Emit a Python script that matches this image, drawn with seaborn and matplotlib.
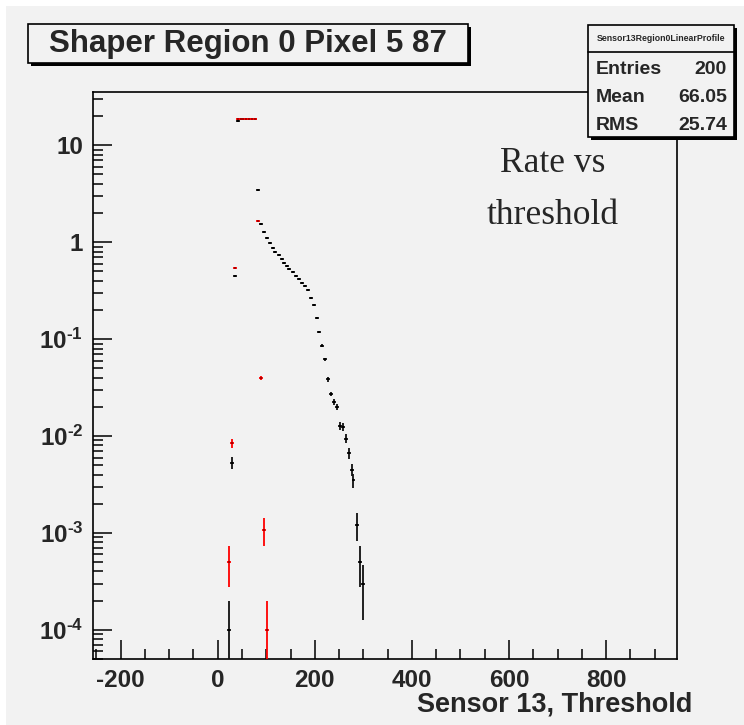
import numpy as np
import pandas as pd
import matplotlib
matplotlib.use("Agg")
import matplotlib.pyplot as plt
import seaborn as sns
from matplotlib.patches import Rectangle
from matplotlib.lines import Line2D
from matplotlib.ticker import MultipleLocator, LogLocator, NullFormatter

# --- data ---
black_x = [23.1, 29.2, 35.4, 41.0, 47.1, 53.0, 58.9, 64.8, 70.7, 76.6,
           82.2, 89.0, 94.5, 100.7, 106.9, 113.0, 118.4, 126.0, 132.2, 137.0,
           141.9, 147.3, 154.3, 160.4, 166.6, 172.8, 179.0, 185.2, 192.0, 198.1,
           204.3, 208.4, 214.0, 220.2, 226.4, 233.2, 238.7, 245.5, 251.7, 257.9,
           264.1, 270.2, 275.8, 279.5, 286.1, 292.9, 298.5]
black_y = [1.0e-4, 5.3e-3, 0.45, 17.8, 18.7, 18.7, 18.7, 18.7, 18.7, 18.7,
           3.43, 1.55, 1.29, 1.11, 0.975, 0.879, 0.798, 0.738, 0.671, 0.615,
           0.565, 0.530, 0.490, 0.452, 0.418, 0.380, 0.354, 0.319, 0.268, 0.225,
           0.164, 0.118, 0.0857, 0.062, 0.0385, 0.0272, 0.0226, 0.0200, 0.0127, 0.0125,
           0.0094, 0.00665, 0.0045, 0.0035, 0.00121, 0.000507, 0.000296]
black_err = [1.0e-4, 7.3e-4, 0.0067, 0.042, 0.043, 0.043, 0.043, 0.043, 0.043, 0.043,
             0.0185, 0.0124, 0.0114, 0.0105, 0.0099, 0.0094, 0.0089, 0.0086, 0.0082, 0.0078,
             0.0075, 0.0073, 0.0070, 0.0067, 0.0065, 0.0062, 0.0059, 0.0056, 0.0052, 0.0047,
             0.0040, 0.0034, 0.0029, 0.0025, 0.0020, 0.0016, 0.0015, 0.0014, 0.0011, 0.0011,
             0.0010, 0.0008, 0.00067, 0.00059, 0.00038, 0.00023, 0.00017]

red_x = [23.1, 29.2, 35.4, 41.2, 47.1, 53.0, 58.9, 64.8, 70.7, 76.6,
         82.2, 88.4, 94.5, 101.3]
red_y = [5.07e-4, 8.4e-3, 0.546, 18.7, 18.7, 18.7, 18.7, 18.7, 18.7, 18.7,
         1.66, 0.040, 1.08e-3, 1.0e-4]
red_err = [2.3e-4, 9.0e-4, 0.0074, 0.043, 0.043, 0.043, 0.043, 0.043, 0.043, 0.043,
           0.013, 0.002, 3.5e-4, 1.0e-4]

bin_half = 4.0

y_ticks = [1e-4, 1e-3, 1e-2, 1e-1, 1, 10]
y_labels = ["$\\mathbf{10^{\u20104}}$", "$\\mathbf{10^{\u20103}}$", "$\\mathbf{10^{\u20102}}$",
            "$\\mathbf{10^{\u20101}}$", "1", "10"]

title_txt = "Shaper Region 0 Pixel 5 87"
stat_name = "Sensor13Region0LinearProfile"
stat_rows = [("Entries", "200"), ("Mean", "66.05"), ("RMS", "25.74")]

df_black = pd.DataFrame({"x": black_x, "y": black_y, "err": black_err})
df_red = pd.DataFrame({"x": red_x, "y": red_y, "err": red_err})

sns.set_theme(style="ticks")
plt.rcParams["font.family"] = ["Liberation Sans", "DejaVu Sans"]
plt.rcParams["mathtext.fontset"] = "custom"
plt.rcParams["mathtext.rm"] = "Liberation Sans"
plt.rcParams["mathtext.bf"] = "Liberation Sans:bold"
plt.rcParams["axes.unicode_minus"] = False

W, H = 744, 725
GRAY = "#f2f2f2"
fig = plt.figure(figsize=(W / 100, H / 100), dpi=100, facecolor="white")


def px_rect(x0, y0, x1, y1, **kw):
    # rectangle given in pixel coords (origin top-left)
    r = Rectangle((x0 / W, 1 - y1 / H), (x1 - x0) / W, (y1 - y0) / H,
                  transform=fig.transFigure, **kw)
    fig.add_artist(r)
    return r


px_rect(6, 6, W, H, facecolor=GRAY, edgecolor="none", zorder=0)

ax = fig.add_axes([93 / W, 1 - 659 / H, (677 - 93) / W, (659 - 92) / H])
ax.set_facecolor(GRAY)

# black series
ax.errorbar(df_black["x"], df_black["y"], yerr=df_black["err"], xerr=bin_half,
            fmt="none", ecolor="#111111", elinewidth=1.3, capsize=0, zorder=3)
sns.scatterplot(data=df_black, x="x", y="y", ax=ax, color="black", marker="s",
                s=2.5, linewidth=0, zorder=4, legend=False)
# red series
ax.errorbar(df_red["x"], df_red["y"], yerr=df_red["err"], xerr=bin_half,
            fmt="none", ecolor="red", elinewidth=1.3, capsize=0, zorder=5)
sns.scatterplot(data=df_red, x="x", y="y", ax=ax, color="#aa0000", marker="s",
                s=2, linewidth=0, zorder=6, legend=False)

ax.set_yscale("log")
ax.set_xlim(-257, 946)
ax.set_ylim(5.0e-5, 35.5)

ax.xaxis.set_major_locator(MultipleLocator(200))
ax.xaxis.set_minor_locator(MultipleLocator(50))
ax.set_yticks(y_ticks)
ax.set_yticklabels(y_labels)
ax.yaxis.set_minor_locator(LogLocator(base=10, subs=np.arange(2, 10)))
ax.yaxis.set_minor_formatter(NullFormatter())

ax.tick_params(axis="both", which="major", direction="in", length=13.5, width=1.1,
               color="black", labelsize=17.5, pad=7, top=False, right=False)
ax.tick_params(axis="both", which="minor", direction="in", length=7, width=1.1,
               color="black", top=False, right=False)
for lab in ax.get_xticklabels() + ax.get_yticklabels():
    lab.set_fontweight("bold")
for s in ax.spines.values():
    s.set_linewidth(1.2)
    s.set_color("black")
ax.set_xlabel("")
ax.set_ylabel("")

fig.text(692 / W, 1 - 705 / H, "Sensor 13, Threshold", ha="right", va="center",
         fontsize=19.5, fontweight="bold")

# title box with shadow
px_rect(31, 27, 471, 66, facecolor="black", edgecolor="none", zorder=5)
px_rect(28, 24, 468, 63, facecolor=GRAY, edgecolor="black", linewidth=1.2, zorder=6)
fig.text(248 / W, 1 - 44 / H, title_txt, ha="center", va="center",
         fontsize=22.5, fontweight="bold", zorder=7)

# stats box with shadow
px_rect(591, 28, 737, 140, facecolor="black", edgecolor="none", zorder=5)
px_rect(588, 25, 734, 137, facecolor=GRAY, edgecolor="black", linewidth=1.2, zorder=6)
fig.add_artist(Line2D([588 / W, 734 / W], [1 - 52 / H, 1 - 52 / H],
                      transform=fig.transFigure, color="black", linewidth=1.2, zorder=7))
fig.text(661 / W, 1 - 38.5 / H, stat_name, ha="center", va="center",
         fontsize=6.3, fontweight="bold", zorder=7)
for i, (k, v) in enumerate(stat_rows):
    yy = 1 - (70 + 27.5 * i) / H
    fig.text(596 / W, yy, k, ha="left", va="center", fontsize=14,
             fontweight="bold", zorder=7)
    fig.text(727 / W, yy, v, ha="right", va="center", fontsize=14,
             fontweight="bold", zorder=7)

# annotation text
fig.text(553 / W, 1 - 163 / H, "Rate vs", ha="center", va="center",
         fontsize=25.5, family=["Liberation Serif", "DejaVu Serif"])
fig.text(553 / W, 1 - 216 / H, "threshold", ha="center", va="center",
         fontsize=25.5, family=["Liberation Serif", "DejaVu Serif"])

fig.savefig("out.png", dpi=100, facecolor=fig.get_facecolor())
